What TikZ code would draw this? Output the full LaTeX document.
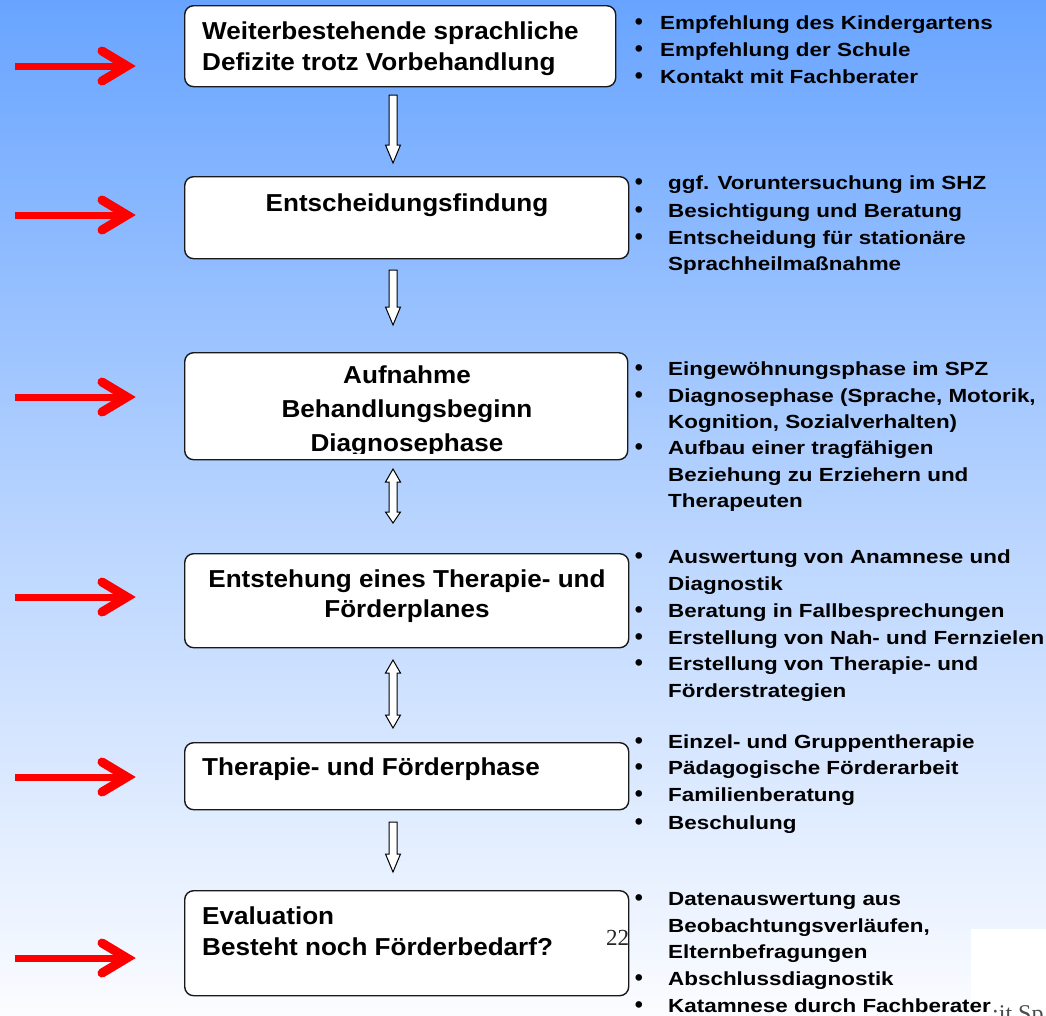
\documentclass[tikz,border=0pt]{standalone}
\usepackage{fontspec}
\setmainfont{Liberation Sans}
\newfontfamily\boxfont[FakeStretch=1.065]{Liberation Sans Bold}
\newfontfamily\itemfont[FakeStretch=1.18]{Liberation Sans Bold}
\newfontfamily\bulfont{Liberation Sans Bold}
\newfontfamily\serfont{Liberation Serif}
\definecolor{bgtop}{RGB}{104,164,255}
\definecolor{bgmid}{RGB}{182,211,255}
\definecolor{bgbot}{RGB}{251,252,255}
\tikzset{
  bx/.style={draw=black!90, line width=1.4pt, fill=white, rounded corners=9pt, inner sep=0pt, anchor=north west},
  btxt/.style={font={\boxfont\fontsize{24.5}{30}\selectfont}, inner sep=0pt},
  itxt/.style={font={\itemfont\fontsize{19}{27}\selectfont}, inner sep=0pt, anchor=base west},
  bul/.style={font={\bulfont\fontsize{23}{27}\selectfont}, inner sep=0pt, anchor=base},
  redshaft/.style={draw=red, line width=7pt},
  redhead/.style={draw=red, line width=9pt, line cap=round, line join=miter},
  blk/.style={draw=black, fill=white, line width=1pt, line join=miter}
}
\newcommand{\redarrowat}[2]{%
  \coordinate (#1s) at (15,#2);
  \coordinate (#1e) at (127,#2);
  \draw[redshaft] (#1s) -- (#1e);
  \draw[redhead] ([xshift=-25pt,yshift=-15pt]#1e) -- (#1e) -- ([xshift=-25pt,yshift=15pt]#1e);
}
% down block arrow: x, top, head base, tip
\newcommand{\blkdown}[4]{%
  \draw[blk] (#1-4,#2) -- (#1+4,#2) -- (#1+4,#3) -- (#1+7.5,#3) -- (#1,#4) -- (#1-7.5,#3) -- (#1-4,#3) -- cycle;
}
% double block arrow: x, top tip, top head base, bottom head base, bottom tip
\newcommand{\blkdouble}[5]{%
  \draw[blk] (#1,#2) -- (#1+7.5,#3) -- (#1+4,#3) -- (#1+4,#4) -- (#1+7.5,#4) -- (#1,#5) -- (#1-7.5,#4) -- (#1-4,#4) -- (#1-4,#3) -- (#1-7.5,#3) -- cycle;
}
\begin{document}
\begin{tikzpicture}[x=1pt,y=-1pt]
\useasboundingbox (0,0) rectangle (1046,1015);
\shade[top color=bgtop, bottom color=bgbot, middle color=bgmid] (0,0) rectangle (1046,1015);
\fill[white] (971,929) rectangle (1046,1015);

% boxes
\node[bx, minimum width=431pt, minimum height=81pt] (b1) at (184,5) {};
\node[bx, minimum width=444pt, minimum height=82pt] (b2) at (184,176) {};
\node[bx, minimum width=443pt, minimum height=107pt] (b3) at (184,352) {};
\node[bx, minimum width=444pt, minimum height=94pt] (b4) at (184,553) {};
\node[bx, minimum width=444pt, minimum height=67pt] (b5) at (184,742) {};
\node[bx, minimum width=444pt, minimum height=105pt] (b6) at (184,890) {};

% box texts
\node[btxt, anchor=base west] (t1a) at (202,39) {Weiterbestehende sprachliche};
\node[btxt, anchor=base west] (t1b) at (202,70) {Defizite trotz Vorbehandlung};
\node[btxt, anchor=base] (t2) at (407,211) {Entscheidungsfindung};
\node[btxt, anchor=base] (t3a) at (407,383) {Aufnahme};
\node[btxt, anchor=base] (t3b) at (407,417) {Behandlungsbeginn};
\begin{scope}
\clip (184,352) rectangle (628,453);
\node[btxt, anchor=base] (t3c) at (407,451) {Diagnosephase};
\end{scope}
\node[btxt, anchor=base] (t4a) at (407,587) {Entstehung eines Therapie- und};
\node[btxt, anchor=base] (t4b) at (407,617) {Förderplanes};
\node[btxt, anchor=base west] (t5) at (202,775) {Therapie- und Förderphase};
\node[btxt, anchor=base west] (t6a) at (202,924) {Evaluation};
\node[btxt, anchor=base west] (t6b) at (202,955) {Besteht noch Förderbedarf?};

% block arrows
\blkdown{393}{95}{145}{163}
\blkdown{393}{270}{307}{325}
\blkdouble{393}{469}{482}{512}{523}
\blkdouble{393}{660}{673}{715}{728}
\blkdown{393}{822}{854}{872}

% red arrows
\redarrowat{r1}{66}
\redarrowat{r2}{215}
\redarrowat{r3}{397}
\redarrowat{r4}{597}
\redarrowat{r5}{777}
\redarrowat{r6}{958}

% list 1
\node[bul] (u1a) at (639,29) {•};
\node[bul] (u1b) at (639,56) {•};
\node[bul] (u1c) at (639,83) {•};
\node[itxt] (l1a) at (660,29) {Empfehlung des Kindergartens};
\node[itxt] (l1b) at (660,56) {Empfehlung der Schule};
\node[itxt] (l1c) at (660,83) {Kontakt mit Fachberater};

% list 2
\node[bul] (u2a) at (639,189) {•};
\node[bul] (u2b) at (639,217) {•};
\node[bul] (u2c) at (639,244) {•};
\node[itxt] (l2a) at (668,189) {ggf. Voruntersuchung im SHZ};
\node[itxt] (l2b) at (668,217) {Besichtigung und Beratung};
\node[itxt] (l2c) at (668,244) {Entscheidung für stationäre};
\node[itxt] (l2d) at (668,270) {Sprachheilmaßnahme};

% list 3
\node[bul] (u3a) at (639,375) {•};
\node[bul] (u3b) at (639,402) {•};
\node[bul] (u3c) at (639,454) {•};
\node[itxt] (l3a) at (668,375) {Eingewöhnungsphase im SPZ};
\node[itxt] (l3b) at (668,402) {Diagnosephase (Sprache, Motorik,};
\node[itxt] (l3c) at (668,428) {Kognition, Sozialverhalten)};
\node[itxt] (l3d) at (668,454) {Aufbau einer tragfähigen};
\node[itxt] (l3e) at (668,481) {Beziehung zu Erziehern und};
\node[itxt] (l3f) at (668,507) {Therapeuten};

% list 4
\node[bul] (u4a) at (639,563) {•};
\node[bul] (u4b) at (639,617) {•};
\node[bul] (u4c) at (639,644) {•};
\node[bul] (u4d) at (639,670) {•};
\node[itxt] (l4a) at (668,563) {Auswertung von Anamnese und};
\node[itxt] (l4b) at (668,590) {Diagnostik};
\node[itxt] (l4c) at (668,617) {Beratung in Fallbesprechungen};
\node[itxt] (l4d) at (668,644) {Erstellung von Nah- und Fernzielen};
\node[itxt] (l4e) at (668,670) {Erstellung von Therapie- und};
\node[itxt] (l4f) at (668,697) {Förderstrategien};

% list 5
\node[bul] (u5a) at (639,748) {•};
\node[bul] (u5b) at (639,774) {•};
\node[bul] (u5c) at (639,801) {•};
\node[bul] (u5d) at (639,829) {•};
\node[itxt] (l5a) at (668,748) {Einzel- und Gruppentherapie};
\node[itxt] (l5b) at (668,774) {Pädagogische Förderarbeit};
\node[itxt] (l5c) at (668,801) {Familienberatung};
\node[itxt] (l5d) at (668,829) {Beschulung};

% list 6
\node[bul] (u6a) at (639,905) {•};
\node[bul] (u6b) at (639,985) {•};
\node[bul] (u6c) at (639,1012) {•};
\node[itxt] (l6a) at (668,905) {Datenauswertung aus};
\node[itxt] (l6b) at (668,932) {Beobachtungsverläufen,};
\node[itxt] (l6c) at (668,958) {Elternbefragungen};
\node[itxt] (l6d) at (668,985) {Abschlussdiagnostik};
\node[itxt] (l6e) at (668,1012) {Katamnese durch Fachberater};

% stray texts
\node[font={\serfont\fontsize{23}{26}\selectfont}, inner sep=0pt, anchor=base west, text=black!85] (pg) at (606,945) {22};
\node[font={\serfont\fontsize{24}{28}\selectfont}, inner sep=0pt, anchor=base west, text=black!70] (sp) at (992,1021) {:it Sp};
\end{tikzpicture}
\end{document}
